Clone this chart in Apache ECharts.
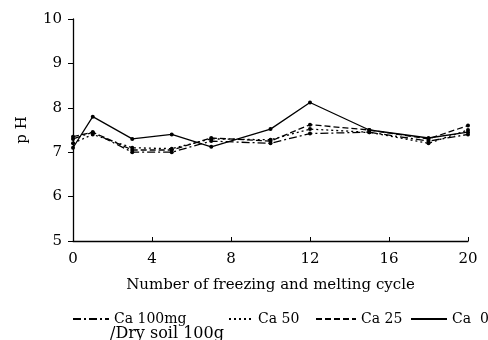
<!DOCTYPE html>
<html>
<head>
<meta charset="utf-8">
<script src="https://cdn.jsdelivr.net/npm/echarts@6/dist/echarts.min.js"></script>
<style>
  html, body { margin: 0; padding: 0; background: #fff; }
  #chart { width: 488px; height: 340px; }
</style>
</head>
<body>
<div id="chart"></div>
<script>
// freeze/thaw cycles
const cycles = [0, 1, 3, 5, 7, 10, 12, 15, 18, 20]
const ca100 = [7.3, 7.45, 7.0, 7.0, 7.25, 7.2, 7.42, 7.45, 7.25, 7.4]
const ca50 = [7.2, 7.4, 7.1, 7.08, 7.3, 7.28, 7.52, 7.45, 7.2, 7.5]
const ca25 = [7.35, 7.45, 7.05, 7.05, 7.32, 7.25, 7.62, 7.5, 7.3, 7.6]
const ca0 = [7.1, 7.8, 7.3, 7.4, 7.12, 7.52, 8.12, 7.5, 7.32, 7.45]
const names = ['Ca 100mg', 'Ca 50', 'Ca 25', 'Ca 0']
const labels = ['{a|}\n{a|Ca 100mg}\n{b|/Dry soil 100g}', '{a|Ca 50}', '{a|Ca 25}', '{a|Ca  0}']

const font = 'DejaVu Serif'
const txt = { fontFamily: font, fontSize: 14, color: '#000' }

function pairs (vals) {
  return cycles.map((c, i) => [c, vals[i]])
}

function mkSeries (name, vals, dash) {
  return {
    name: name,
    type: 'line',
    data: pairs(vals),
    symbol: 'circle',
    symbolSize: 4,
    itemStyle: { color: '#000' },
    lineStyle: { color: '#000', width: 1.3, type: dash },
    animation: false
  }
}

// one legend per entry so each sits where the original has it
const legendPos = [[67, 292, 36], [223, 307, 24], [310, 307, 40], [405, 307, 36]]
const legends = names.map((n, i) => ({
  left: legendPos[i][0],
  top: legendPos[i][1],
  itemWidth: legendPos[i][2],
  itemHeight: 10,
  itemStyle: { opacity: 0 },
  textStyle: Object.assign({}, txt, {
    rich: {
      a: { fontFamily: font, fontSize: 14, color: '#000', lineHeight: 15 },
      b: { fontFamily: font, fontSize: 16, color: '#000', lineHeight: 15, padding: [0, 0, 0, -4] }
    }
  }),
  formatter: labels[i],
  data: [n]
}))

const chart = echarts.init(document.getElementById('chart'))
chart.setOption({
  backgroundColor: '#fff',
  grid: { left: 73, right: 20, top: 19, bottom: 99 },
  xAxis: {
    type: 'value',
    min: 0,
    max: 20,
    interval: 4,
    name: 'Number of freezing and melting cycle',
    nameLocation: 'middle',
    nameGap: 37,
    nameTextStyle: Object.assign({}, txt, { fontSize: 15 }),
    axisLine: { lineStyle: { color: '#000', width: 1.3 } },
    axisTick: { inside: true, length: 4, lineStyle: { color: '#000' } },
    axisLabel: Object.assign({}, txt, { fontSize: 15, margin: 11 }),
    splitLine: { show: false }
  },
  yAxis: {
    type: 'value',
    min: 5,
    max: 10,
    interval: 1,
    name: 'p H',
    nameLocation: 'middle',
    nameGap: 43,
    nameRotate: 90,
    nameTextStyle: Object.assign({}, txt, { fontSize: 15 }),
    axisLine: { show: true, lineStyle: { color: '#000', width: 1.3 } },
    axisTick: { show: true, length: 5, lineStyle: { color: '#000' } },
    axisLabel: Object.assign({}, txt, { fontSize: 15, margin: 11 }),
    splitLine: { show: false }
  },
  legend: legends,
  series: [
    mkSeries(names[0], ca100, [8, 3, 2, 3]),
    mkSeries(names[1], ca50, [2, 3]),
    mkSeries(names[2], ca25, [6, 3]),
    mkSeries(names[3], ca0, 'solid')
  ]
})
</script>
</body>
</html>
